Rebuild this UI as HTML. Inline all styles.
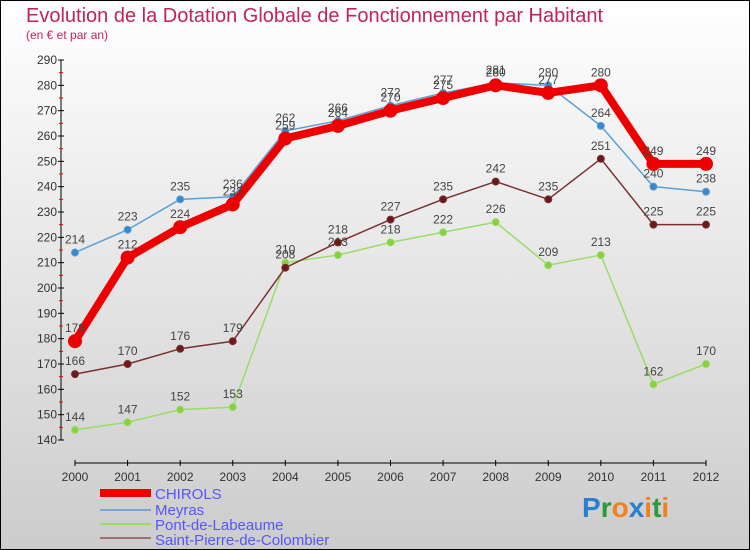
<!DOCTYPE html>
<html><head><meta charset="utf-8"><style>
body{margin:0;width:750px;height:550px;overflow:hidden}
svg{display:block;font-family:"Liberation Sans",sans-serif}
</style></head><body>
<svg id="c" width="750" height="550" viewBox="0 0 750 550">
<defs><linearGradient id="bg" x1="0" y1="0" x2="0" y2="1"><stop offset="0" stop-color="#ffffff"/><stop offset="1" stop-color="#cccccc"/></linearGradient></defs>
<rect x="0.5" y="0.5" width="749" height="549" fill="url(#bg)" stroke="#000"/>
<text x="26" y="22" font-size="20" fill="#c0245c">Evolution de la Dotation Globale de Fonctionnement par Habitant</text>
<text x="26" y="39" font-size="12" fill="#c0245c">(en € et par an)</text>
<g id="axes"></g><g id="series"></g>
<g>
<rect x="100" y="489" width="51" height="8" fill="#e00"/>
<text x="155" y="499" font-size="15" fill="#5555ff">CHIROLS</text>
<line x1="100" y1="510" x2="151" y2="510" stroke="#7aa7d0" stroke-width="2"/>
<text x="155" y="515" font-size="15" fill="#5555ff">Meyras</text>
<line x1="100" y1="524" x2="151" y2="524" stroke="#99dd66" stroke-width="2"/>
<text x="155" y="530" font-size="15" fill="#5555ff">Pont-de-Labeaume</text>
<line x1="100" y1="538" x2="151" y2="538" stroke="#a07070" stroke-width="2"/>
<text x="155" y="545" font-size="15" fill="#5555ff">Saint-Pierre-de-Colombier</text>
</g>
<text x="582" y="517" font-size="28" font-weight="bold"><tspan fill="#2a7fd0">P</tspan><tspan fill="#2a9a3a">r</tspan><tspan fill="#f08020">o</tspan><tspan fill="#2a7fd0">x</tspan><tspan fill="#f08020">i</tspan><tspan fill="#2a9a3a">t</tspan><tspan fill="#f08020">i</tspan></text>
</svg>
<script>
const years=[2000,2001,2002,2003,2004,2005,2006,2007,2008,2009,2010,2011,2012];
const yTicks=[140,150,160,170,180,190,200,210,220,230,240,250,260,270,280,290];
const chirols=[179,212,224,233,259,264,270,275,280,277,280,249,249];
const meyras=[214,223,235,236,262,266,272,277,281,280,264,240,238];
const pont=[144,147,152,153,210,213,218,222,226,209,213,162,170];
const stPierre=[166,170,176,179,208,218,227,235,242,235,251,225,225];
const NS="http://www.w3.org/2000/svg";
const X=i=>75+i*(706-75)/12;
const Y=v=>440-(v-140)*(380/150);
function mk(t,a,p){const e=document.createElementNS(NS,t);for(const k in a)e.setAttribute(k,a[k]);p.appendChild(e);return e;}
const ax=document.getElementById('axes');
let l=mk('line',{x1:61,y1:60,x2:61,y2:440,stroke:'#000'},ax);


yTicks.forEach(v=>{
 mk('line',{x1:58,y1:Y(v),x2:64,y2:Y(v),stroke:'#000'},ax);
 if(v<290) mk('line',{x1:59,y1:Y(v+5),x2:63,y2:Y(v+5),stroke:'#e00'},ax);
 const t=mk('text',{x:57,y:Y(v)+4,'font-size':12,fill:'#333','text-anchor':'end'},ax);t.textContent=v;
 
 
});
l=mk('line',{x1:75,y1:463,x2:706,y2:463,stroke:'#000'},ax);


years.forEach((y,i)=>{
 mk('line',{x1:X(i),y1:460,x2:X(i),y2:466,stroke:'#000'},ax);
 const t=mk('text',{x:X(i),y:481,'font-size':12,fill:'#333','text-anchor':'middle'},ax);t.textContent=y;
 
 
});
const sg=document.getElementById('series');
function draw(d,col,w,r,name,dot){
 const g=mk('g',{},sg);
 
 
 const p=mk('polyline',{points:d.map((v,i)=>X(i)+','+Y(v)).join(' '),fill:'none',stroke:col,'stroke-width':w,'stroke-linejoin':'round'},g);
 
 
 d.forEach((v,i)=>{
  const c=mk('circle',{cx:X(i),cy:Y(v),r:r,fill:dot,stroke:col,'stroke-width':1},g);
  
  
  const t=mk('text',{x:X(i),y:Y(v)-9,'font-size':12,fill:'#444','text-anchor':'middle'},g);t.textContent=v;
  
  
 });
}
draw(pont,'#99dd66',1.5,3.5,'pont-de-labeaume','#88d040');
draw(stPierre,'#7a3030',1.5,3.5,'saint-pierre-de-colombier','#6a1a1a');
draw(meyras,'#5aa0d8',1.5,3.5,'meyras','#3a88c8');
draw(chirols,'#ee0000',8,6.5,'chirols','#ee0000');
</script>
</body></html>
